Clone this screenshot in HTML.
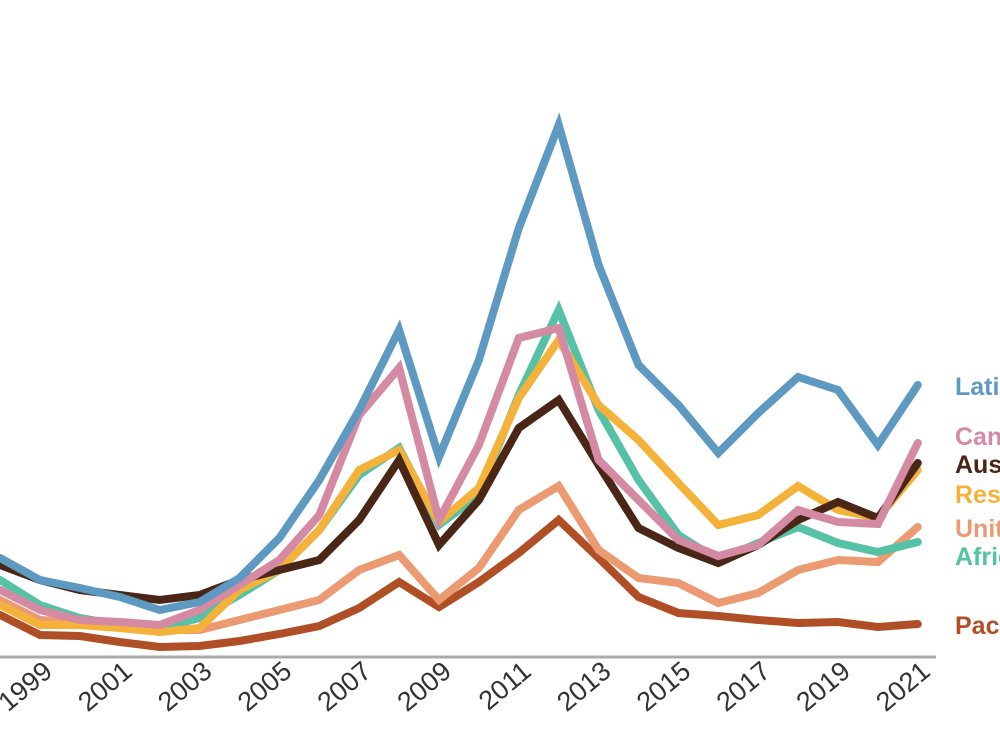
<!DOCTYPE html>
<html><head><meta charset="utf-8"><style>
body{margin:0;background:#fff;overflow:hidden}
svg{display:block}
text{font-family:"Liberation Sans",sans-serif}
</style></head><body>
<svg id="chart" width="1000" height="750">
<line x1="0" y1="657" x2="936" y2="657" stroke="#aaa" stroke-width="3"/>
<g id="lines"></g><g id="ticks"></g><g id="labels"></g>
</svg>
<script>
const years=[1998,1999,2000,2001,2002,2003,2004,2005,2006,2007,2008,2009,2010,2011,2012,2013,2014,2015,2016,2017,2018,2019,2020,2021];
const tickYears=[1999,2001,2003,2005,2007,2009,2011,2013,2015,2017,2019,2021];
const seriesNames=["Pacific","United States","Africa","Rest of world","Australia","Canada","Latin America"];
const pacific=[42,22,21,15,10,11,16,23,31,49,75,50,75,104,137,99,60,44,41,37,34,35,30,33];
const unitedStates=[57,37,35,31,27,27,37,47,57,87,102,57,89,147,171,107,79,74,54,64,87,97,95,130];
const africa=[77,52,39,32,29,39,62,87,127,182,209,132,162,262,347,247,177,122,97,114,130,114,105,115];
const restOfWorld=[52,32,32,29,25,29,67,87,127,187,207,135,169,259,317,252,217,174,132,142,171,147,139,187];
const australia=[92,77,67,62,57,62,77,87,97,137,197,112,157,229,257,192,129,109,94,112,137,155,139,194];
const canada=[67,47,37,35,32,47,72,97,142,242,289,137,212,319,329,197,157,117,101,112,147,135,133,214];
const latinAmerica=[99,77,69,60,47,55,79,119,177,247,327,200,297,429,532,392,292,252,204,244,280,267,212,272];
const colors=["#b04f26","#ec9a72","#55c1a5","#f5b23a","#4a2616","#d48aa3","#5e99c2"];
const labelY=[625,528,556,494,464,436,386];
const data=[pacific,unitedStates,africa,restOfWorld,australia,canada,latinAmerica];
const xs=y=>40+(y-1999)*39.9;
const ys=v=>657-v;
const NS="http://www.w3.org/2000/svg";
const gl=document.getElementById('lines'),gt=document.getElementById('ticks'),gb=document.getElementById('labels');
data.forEach((s,i)=>{
 const p=document.createElementNS(NS,'polyline');
 p.setAttribute('points',s.map((v,j)=>xs(years[j])+','+ys(v)).join(' '));
 p.setAttribute('fill','none');p.setAttribute('stroke',colors[i]);p.setAttribute('stroke-width','8');
 p.setAttribute('stroke-linejoin','miter');p.setAttribute('stroke-linecap','round');
 
 
 gl.appendChild(p);
 const t=document.createElementNS(NS,'text');
 t.setAttribute('x',955);t.setAttribute('y',labelY[i]+9);t.setAttribute('fill',colors[i]);
 t.setAttribute('font-size','25');t.setAttribute('font-weight','bold');t.textContent=seriesNames[i];
 
 
 gb.appendChild(t);
});
tickYears.forEach(y=>{
 const t=document.createElementNS(NS,'text');
 const x=xs(y)+14,yy=674;
 t.setAttribute('x',x);t.setAttribute('y',yy);t.setAttribute('text-anchor','end');
 t.setAttribute('font-size','27');t.setAttribute('fill','#333');
 t.setAttribute('transform','rotate(-40 '+x+' '+yy+')');
 t.textContent=y;
 
 
 gt.appendChild(t);
});
</script>
</body></html>
